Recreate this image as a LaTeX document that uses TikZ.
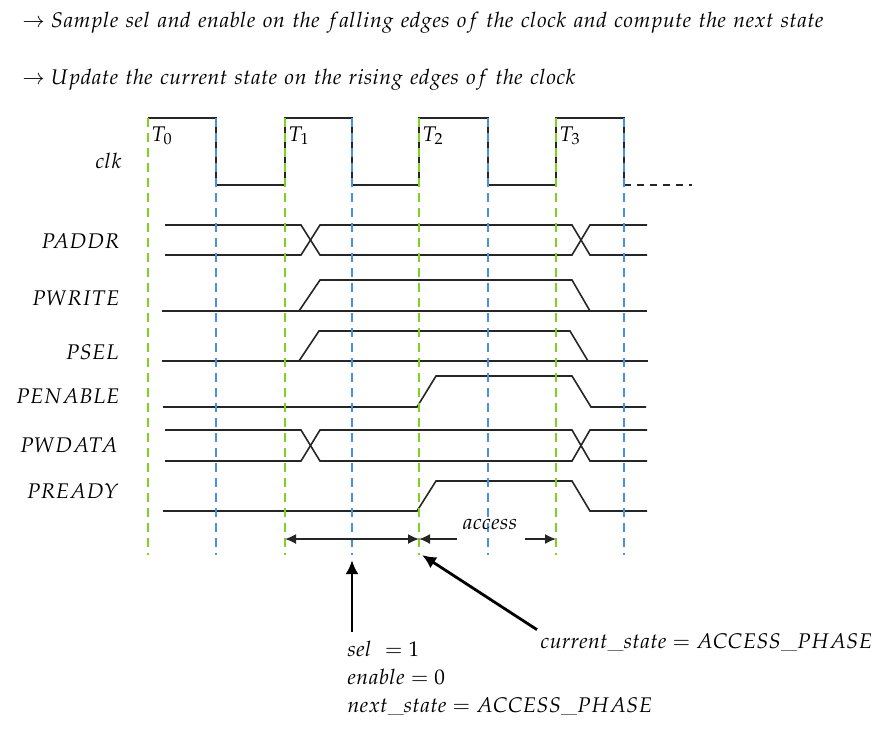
\documentclass[tikz,border=0pt]{standalone}
\usepackage{mathpazo}
\usetikzlibrary{arrows.meta}
\definecolor{risegreen}{RGB}{126,211,33}
\definecolor{fallblue}{RGB}{74,144,226}

\begin{document}
\begin{tikzpicture}[x=0.5pt, y=-0.5pt, every node/.style={font=\fontsize{10.6}{13}\selectfont, inner sep=0pt},
	>={Latex[length=5.5pt,width=5pt]},
	sig/.style={line width=0.8pt, black!85},
	edgeline/.style={line width=1.4pt, dash pattern=on 4.5pt off 3pt},
	note/.style={line width=1.4pt, -{Latex[length=7pt,width=6.5pt]}}]
	\useasboundingbox (0,0) rectangle (894,736);
	% headings
	\node[anchor=base west] (hfall) at (22,27) {$\rightarrow Sample\ sel\ and\ enable\ on\ the\ falling\ edges\ of\ the\ clock\ and\ compute\ the\ next\ state$};
	\node[anchor=base west] (hrise) at (22,84) {$\rightarrow Update\ the\ current\ state\ on\ the\ rising\ edges\ of\ the\ clock$};
	% signal names
	\node[anchor=base east] (lclk) at (122,168) {$clk$};
	\node[anchor=base east] (laddr) at (120,248) {$PADDR$};
	\node[anchor=base east] (lwrite) at (120,305) {$PWRITE$};
	\node[anchor=base east] (lsel) at (119,359) {$PSEL$};
	\node[anchor=base east] (lenable) at (120,403) {$PENABLE$};
	\node[anchor=base east] (lwdata) at (118,452) {$PWDATA$};
	\node[anchor=base east] (lready) at (119,498) {$PREADY$};
	% clock
	\draw[sig] (148,118) -- (216,118) -- (216,185) -- (285,185) -- (285,118) -- (352,118) -- (352,185) -- (419,185) -- (419,118)
		-- (488,118) -- (488,185) -- (556,185) -- (556,118) -- (624,118) -- (624,185);
	\draw[sig, dash pattern=on 3.5pt off 3pt] (624,185) -- (692,185);
	\foreach \x/\i in {148/0, 285/1, 419/2, 556/3}
		\node[anchor=base west] (t\i) at (\x+3,141) {$T_{\i}$};
	% buses
	\foreach \t/\b in {225/255, 430/461} {
		\draw[sig] (165,\t) -- (301,\t) -- (320,\b) -- (572,\b) -- (590,\t) -- (647,\t);
		\draw[sig] (165,\b) -- (301,\b) -- (320,\t) -- (572,\t) -- (590,\b) -- (647,\b);
	}
	% PWRITE, PSEL
	\draw[sig] (162,311) -- (647,311);
	\draw[sig] (299,311) -- (320,280) -- (572,280) -- (590,311);
	\draw[sig] (162,361) -- (648,361);
	\draw[sig] (299,361) -- (319,331) -- (570,331) -- (588,361);
	% PENABLE, PREADY
	\draw[sig] (163,407) -- (417,407) -- (436,376) -- (572,376) -- (591,407) -- (646,407);
	\draw[sig] (163,511) -- (417,511) -- (436,481) -- (572,481) -- (590,511) -- (647,511);
	% edges
	\foreach \x in {148, 285, 419, 556}
		\draw[edgeline, risegreen] (\x,118) -- (\x,555);
	\foreach \x in {216, 352, 488, 624}
		\draw[edgeline, fallblue] (\x,118) -- (\x,555);
	% phases
	\coordinate (r1) at (285,539);
	\coordinate (r2) at (419,539);
	\coordinate (r3) at (556,539);
	\node (acc) at (490,524) {$access$};
	\draw[sig, <->] (r1) -- (r2);
	\draw[sig, ->] (acc.west |- r2) ++(-5,0) -- (r2);
	\draw[sig, ->] (acc.east |- r3) ++(7,0) -- (r3);
	% notes
	\node[anchor=north west, align=left, font=\fontsize{10.6}{14}\selectfont] (selnote) at (347,641)
		{$sel\ = 1$\\ $enable = 0$\\ $next\_state = ACCESS\_PHASE$};
	\node[anchor=base west] (curnote) at (540,648) {$current\_state = ACCESS\_PHASE$};
	\coordinate (samp) at (352,560);
	\coordinate (upd) at (422,555);
	\draw[note] (selnote.north -| samp) ++(0,-9) -- (samp);
	\draw[note] (curnote.north west) ++(-3,-3) -- (upd);
\end{tikzpicture}
\end{document}
